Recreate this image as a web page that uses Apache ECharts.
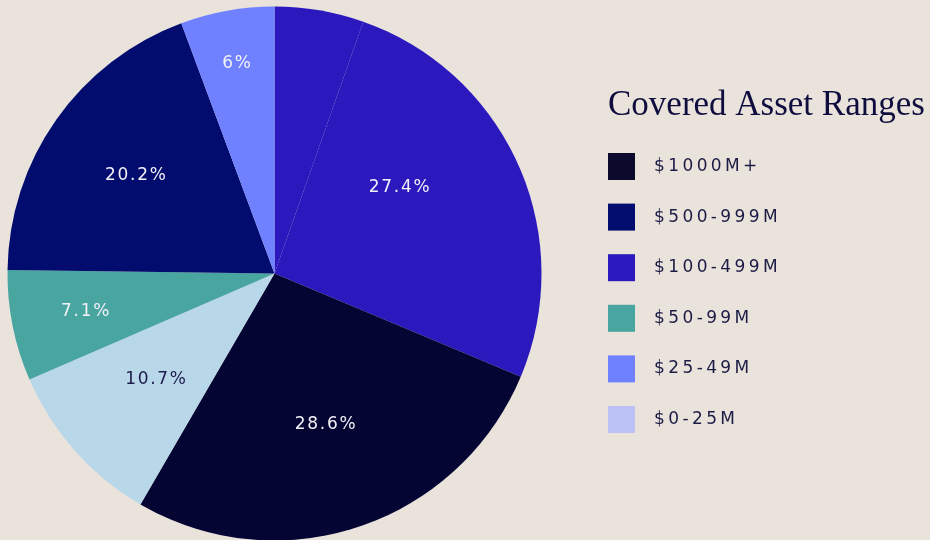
<!DOCTYPE html>
<html>
<head>
<meta charset="utf-8">
<script src="https://cdn.jsdelivr.net/npm/echarts@6/dist/echarts.min.js"></script>
<style>
  html, body { margin: 0; padding: 0; background: #e9e3dc; }
  #chart { width: 930px; height: 540px; }
</style>
</head>
<body>
<div id="chart"></div>
<script>
'use strict';

// slices clockwise from 12 o'clock (first one is the unlabeled sliver in the same violet)
const SLICE_NAMES = ['$100-499M', '$100-499M', '$1000M+', '$0-25M', '$50-99M', '$500-999M', '$25-49M'];
const SLICE_VALUES = [5.7, 27.4, 28.6, 10.7, 7.1, 20.2, 6];
const SLICE_LABELED = [false, true, true, true, true, true, true];
const SLICE_COLORS = ['#2b19be', '#2b19be', '#050533', '#b8d7e9', '#48a5a0', '#020b6e', '#6f81ff'];

const LEGEND_NAMES = ['$1000M+', '$500-999M', '$100-499M', '$50-99M', '$25-49M', '$0-25M'];
const LEGEND_COLORS = ['#0c0a2c', '#020b6e', '#2b19be', '#48a5a0', '#6f81ff', '#bcc2f6'];

// label placement: radius as fraction of pie radius, angle nudge in degrees
const LABEL_R = [0.5, 0.566, 0.596, 0.596, 0.723, 0.637, 0.80];
const LABEL_NUDGE = [0, -10.5, 0, 0, 0, 0, 0];

const CX = 274.5, CY = 273.5, R = 267;

function spaced(s, gap) { return s.split('').join(gap); }

const chart = echarts.init(document.getElementById('chart'), null, { renderer: 'canvas' });

chart.setOption({
  backgroundColor: '#e9e3dc',
  animation: false,
  title: {
    text: 'Covered Asset Ranges',
    left: 608, top: 88, padding: 0,
    textStyle: { fontFamily: 'Liberation Serif', fontWeight: 'normal', fontSize: 35, color: '#0f0d3d' }
  },
  legend: {
    orient: 'vertical',
    left: 608, top: 153, padding: 0,
    itemWidth: 27, itemHeight: 27, itemGap: 23.6,
    icon: 'rect',
    selectedMode: false,
    textStyle: { fontFamily: 'DejaVu Sans', fontSize: 17, color: '#1c1b45', padding: [0, 0, 0, 14] },
    formatter: (name) => spaced(name, '\u2009'),
    data: LEGEND_NAMES.map((n, i) => ({ name: n, itemStyle: { color: LEGEND_COLORS[i] } }))
  },
  series: [{
    type: 'pie',
    center: [CX, CY],
    radius: R,
    startAngle: 90,
    clockwise: true,
    avoidLabelOverlap: false,
    emphasis: { disabled: true },
    label: {
      position: 'inside',
      fontFamily: 'DejaVu Sans',
      fontSize: 17,
      color: '#f1f0f7',
      formatter: (p) => spaced(p.value + '%', '\u200a')
    },
    labelLine: { show: false },
    labelLayout: (p) => {
      const i = p.dataIndex;
      const lx = p.labelRect.x + p.labelRect.width / 2 - CX;
      const ly = p.labelRect.y + p.labelRect.height / 2 - CY;
      const a = Math.atan2(ly, lx) + LABEL_NUDGE[i] * Math.PI / 180;
      const r = LABEL_R[i] * R;
      return { x: CX + r * Math.cos(a), y: CY + r * Math.sin(a) };
    },
    data: SLICE_VALUES.map((v, i) => ({
      name: SLICE_NAMES[i],
      value: v,
      itemStyle: { color: SLICE_COLORS[i] },
      label: { show: SLICE_LABELED[i], color: SLICE_NAMES[i] === '$0-25M' ? '#1c1b4a' : '#f1f0f7' }
    }))
  }]
});
</script>
</body>
</html>
